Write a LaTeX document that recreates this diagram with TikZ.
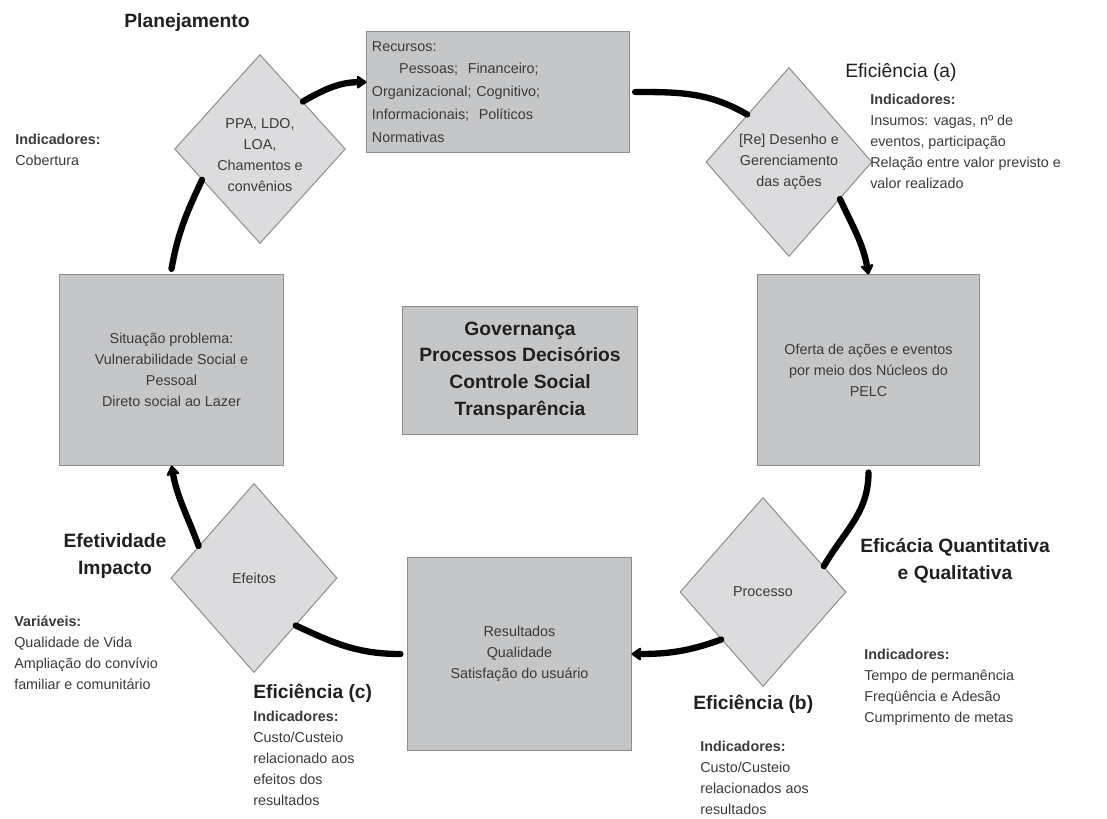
\documentclass[tikz,border=0pt]{standalone}
\usepackage{fontspec}
\setmainfont{Liberation Sans}
\usepackage{tikz}
\usetikzlibrary{shapes.geometric, arrows.meta}
\usetikzlibrary{positioning}

\definecolor{boxgray}{HTML}{C5C6C8}
\definecolor{diagray}{HTML}{DCDCDE}
\definecolor{edgegray}{HTML}{8C8C8C}
\definecolor{txtgray}{HTML}{3A3A3A}
\definecolor{headgray}{HTML}{202020}

\newcommand{\bodyfont}{\fontsize{10.2}{14.9}\selectfont}
\newcommand{\headfont}{\fontsize{13.7}{19}\selectfont}

\begin{document}
\begin{tikzpicture}[x=0.025cm,y=-0.025cm]
\tikzstyle{box} = [rectangle, draw=edgegray, line width=0.7pt, fill=boxgray, text=txtgray, align=center, font=\bodyfont, inner sep=2pt]
\tikzstyle{decision} = [diamond, draw=edgegray, line width=0.7pt, fill=diagray, text=txtgray, align=center, font=\bodyfont, inner sep=0pt, minimum width=4.15cm, minimum height=4.725cm]
\tikzstyle{link} = [line width=4.5pt, line cap=round]
\tikzstyle{arrow} = [link, -{Stealth[length=8pt,width=11pt,inset=1.5pt,round]}]
\tikzstyle{head} = [font=\headfont\bfseries, text=headgray, align=center, inner sep=0pt]
\tikzstyle{note} = [font=\bodyfont, text=txtgray, align=left, inner sep=0pt, anchor=north west]

\useasboundingbox (0,0) rectangle (1107,818);

%Boxes of the cycle and the one in the middle
\node[box, minimum width=6.55cm, minimum height=3cm, text width=6.3cm, align=left, font=\fontsize{10.2}{16.3}\selectfont] (recursos) at (498,92)
  {Recursos:\\\hspace*{1.9em}Pessoas;~ Financeiro;\\Organizacional; Cognitivo;\\Informacionais;~ Políticos\\Normativas};
\node[box, minimum width=5.575cm, minimum height=4.75cm] (situacao) at (171.5,370)
  {Situação problema:\\Vulnerabilidade Social e\\Pessoal\\Direto social ao Lazer};
\node[box, minimum width=5.525cm, minimum height=4.75cm] (oferta) at (868.5,370)
  {Oferta de ações e eventos\\por meio dos Núcleos do\\PELC};
\node[box, minimum width=5.575cm, minimum height=4.8cm] (resultados) at (519.5,654)
  {Resultados\\Qualidade\\Satisfação do usuário};
\node[box, minimum width=5.85cm, minimum height=3.175cm, font=\headfont\bfseries, text=headgray] (governanca) at (520,370.5)
  {Governança\\Processos Decisórios\\Controle Social\\Transparência};

%Diamonds between the boxes
\node[decision] (ppa) at (260,149) {\rule{0pt}{16pt}PPA, LDO,\\LOA,\\Chamentos e\\convênios};
\node[decision] (desenho) at (789,162) {[Re] Desenho e\\Gerenciamento\\das ações};
\node[decision] (processo) at (763,592) {Processo};
\node[decision] (efeitos) at (254,578) {Efeitos};

%The cycle
\draw[link] ([yshift=4pt]situacao.north) to[out=80,in=245] (ppa.208);
\draw[arrow] (ppa.north east) to[out=30,in=180] ([yshift=7pt]recursos.west);
\draw[link] ([xshift=4pt]recursos.east) to[out=0,in=150] (desenho.north west);
\draw[arrow] (desenho.-36) to[out=-65,in=100] (oferta.north);
\draw[link] ([yshift=-5pt]oferta.south) to[out=-90,in=60] (processo.23);
\draw[arrow] (processo.south west) to[out=200,in=0] (resultados.east);
\draw[link] ([xshift=-5pt]resultados.west) to[out=180,in=-25] (efeitos.south east);
\draw[arrow] (efeitos.150) to[out=110,in=-80] (situacao.south);

%Titles and indicators around the cycle
\node[head] (planejamento) at (187,23) {Planejamento};
\node[note] (indcobertura) at (15,134) {\textbf{Indicadores:}\\Cobertura};

\node[head, font=\headfont, anchor=west] (eficienciaA) at (845,72) {Eficiência (a)};
\node[note] (indA) at (870,94) {\textbf{Indicadores:}\\Insumos: vagas, nº de\\eventos, participação\\Relação entre valor previsto e\\valor realizado};

\node[head] (eficacia) at (955,561) {Eficácia Quantitativa\\e Qualitativa};
\node[note] (indeficacia) at (864,649) {\textbf{Indicadores:}\\Tempo de permanência\\Freqüência e Adesão\\Cumprimento de metas};

\node[head, anchor=west] (eficienciaB) at (693,704) {Eficiência (b)};
\node[note] (indB) at (700,741) {\textbf{Indicadores:}\\Custo/Custeio\\relacionados aos\\resultados};

\node[head] (efetividade) at (115,556) {Efetividade\\Impacto};
\node[note] (variaveis) at (14,616) {\textbf{Variáveis:}\\Qualidade de Vida\\Ampliação do convívio\\familiar e comunitário};

\node[head, anchor=west] (eficienciaC) at (253,693) {Eficiência (c)};
\node[note] (indC) at (253,711) {\textbf{Indicadores:}\\Custo/Custeio\\relacionado aos\\efeitos dos\\resultados};

\end{tikzpicture}
\end{document}
